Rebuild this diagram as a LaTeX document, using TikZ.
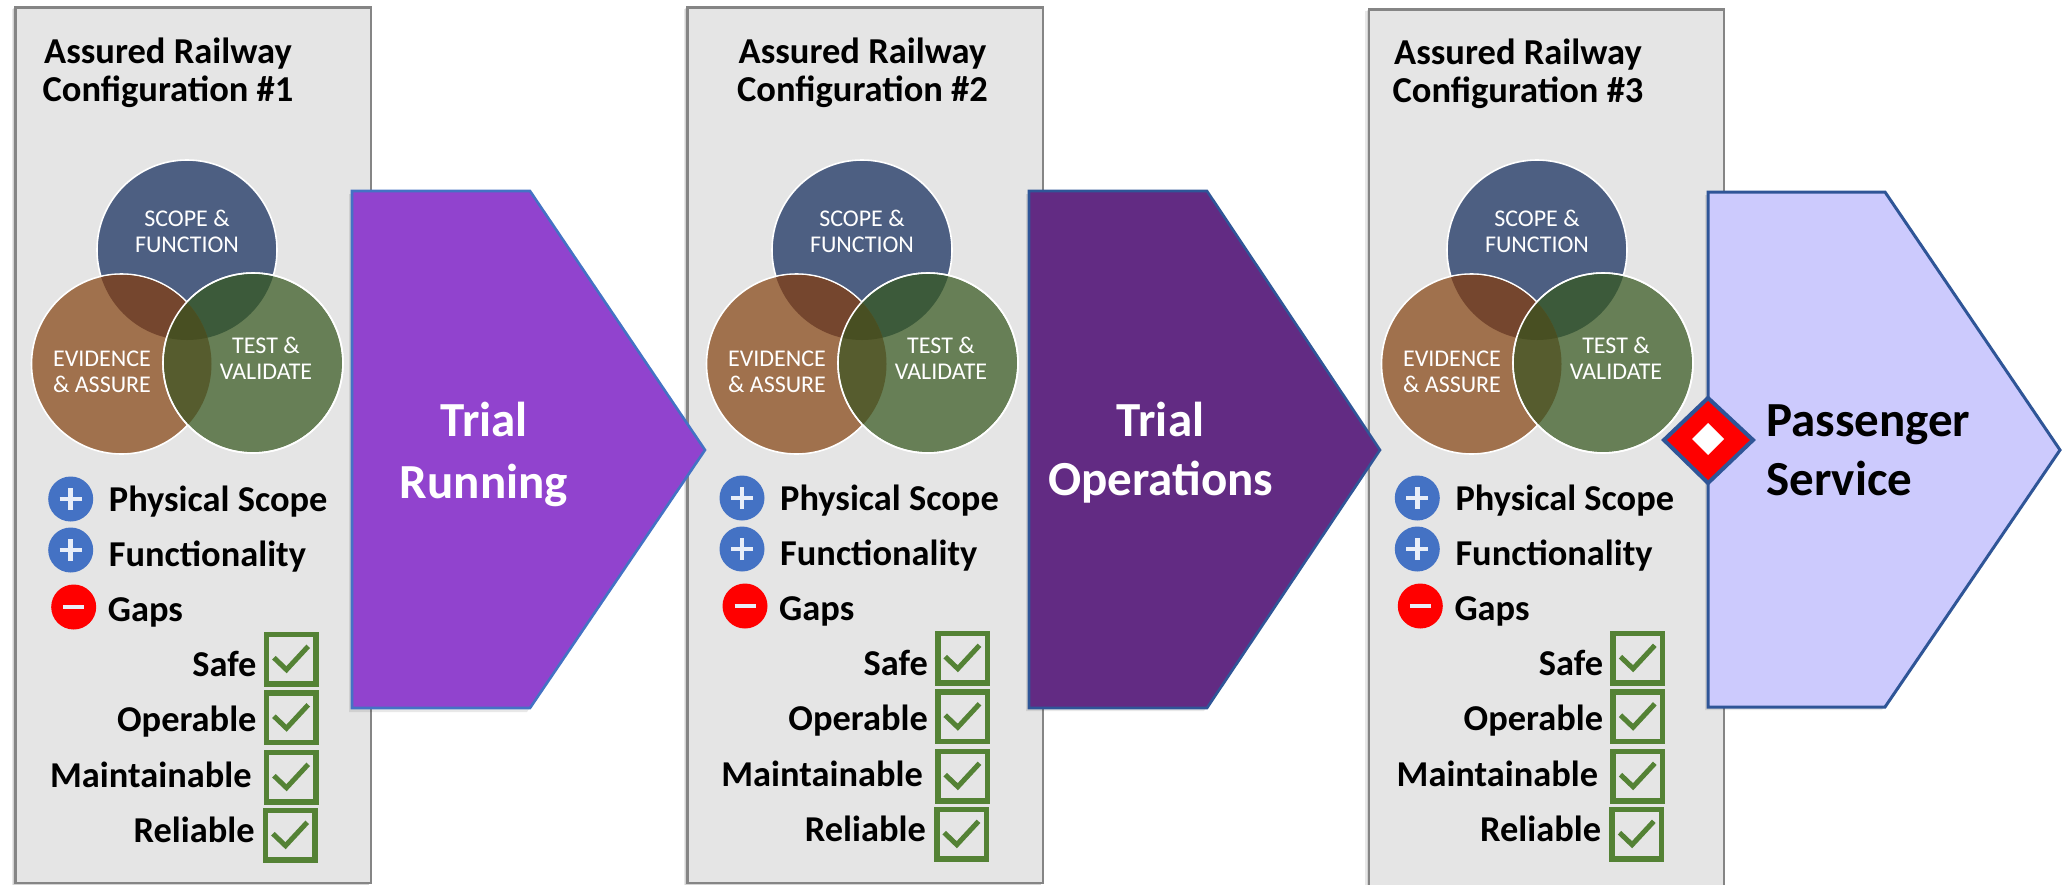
\documentclass[tikz,border=0pt]{standalone}
\usepackage{fontspec}
\setmainfont{Carlito}
\definecolor{panelfill}{HTML}{E5E5E5}
\definecolor{panelline}{HTML}{858585}
\definecolor{vblue}{HTML}{4D5F82}
\definecolor{vbrown}{HTML}{A0714D}
\definecolor{vgreen}{HTML}{677F56}
\definecolor{vbb}{HTML}{75462E}
\definecolor{vbg}{HTML}{3C5A3A}
\definecolor{vgb}{HTML}{565C2E}
\definecolor{vall}{HTML}{484F22}
\definecolor{plusblue}{HTML}{4472C4}
\definecolor{chk}{HTML}{548235}
\definecolor{arrA}{HTML}{9143CE}
\definecolor{arrB}{HTML}{622B83}
\definecolor{arrC}{HTML}{CCCAFD}
\definecolor{edgeA}{HTML}{4472C4}
\definecolor{edgeB}{HTML}{2F5597}
\tikzset{
  x=1pt,y=-1pt,
  panelbox/.style={fill=panelfill,draw=panelline,line width=2.2pt},
  titletext/.style={font=\fontsize{36.5}{36.5}\selectfont\bfseries,text=black,inner sep=0pt,anchor=base},
  venntext/.style={font=\fontsize{24}{24}\selectfont,text=white,inner sep=0pt,anchor=base},
  rowtext/.style={font=\fontsize{36.4}{36.4}\selectfont\bfseries,text=black,inner sep=0pt},
  bigwhite/.style={font=\fontsize{49}{49}\selectfont\bfseries,text=white,inner sep=0pt,anchor=base},
  bigblack/.style={font=\fontsize{49}{49}\selectfont\bfseries,text=black,inner sep=0pt,anchor=base west},
  checkbox/.style={draw=chk,line width=5.5pt,minimum size=49.5pt,inner sep=0pt,outer sep=0pt,rectangle},
  checkmark/.style={draw=chk,line width=5pt},
  iconplus/.style={circle,fill=plusblue,minimum size=45pt,inner sep=0pt},
  iconminus/.style={circle,fill=red,minimum size=45pt,inner sep=0pt},
  iconbar/.style={draw=white!88!plusblue,line width=4.8pt},
  pentagonA/.style={fill=arrA,draw=edgeA,line width=2.6pt,line join=miter},
  pentagonB/.style={fill=arrB,draw=edgeB,line width=2.6pt,line join=miter},
  pentagonC/.style={fill=arrC,draw=edgeB,line width=3pt,line join=miter},
  softshade/.style={fill=black,fill opacity=0.09,draw=none},
}
\newcommand{\pnlbox}[5]{% name x1 y1 x2 y2
  \fill[softshade] (#2-4,#3+1) rectangle (#4-2,#5+3);
  \fill[softshade] (#2-2.5,#3+.5) rectangle (#4-2,#5+3);
  \draw[panelbox] (#2,#3) rectangle (#4,#5);
}
\newcommand{\vennset}[2]{% prefix dx
\begin{scope}[shift={(#2,0)}]
  \coordinate (#1s) at (862,250);
  \coordinate (#1e) at (796.5,364);
  \coordinate (#1t) at (928,363);
  \fill[vblue] (#1s) circle[radius=90];
  \draw[white,line width=1.6pt] (#1s) circle[radius=90];
  \fill[vbrown] (#1e) circle[radius=90];
  \draw[white,line width=1.6pt] (#1e) circle[radius=90];
  \fill[vgreen] (#1t) circle[radius=90];
  \draw[white,line width=1.6pt] (#1t) circle[radius=90];
  \begin{scope}\clip (#1s) circle[radius=90]; \fill[vbb] (#1e) circle[radius=89.2];\end{scope}
  \begin{scope}\clip (#1s) circle[radius=90]; \fill[vbg] (#1t) circle[radius=89.2];\end{scope}
  \begin{scope}\clip (#1e) circle[radius=90]; \fill[vgb] (#1t) circle[radius=89.2];\end{scope}
  \begin{scope}\clip (#1e) circle[radius=90]; \clip (#1s) circle[radius=90]; \fill[vall] (#1t) circle[radius=89.2];\end{scope}
  \draw[white,line width=1.6pt] (#1t) circle[radius=90];
  \node[venntext] (#1a1) at (862,226) {SCOPE \&};
  \node[venntext] (#1a2) at (862,252) {FUNCTION};
  \node[venntext] (#1b1) at (777,366) {EVIDENCE};
  \node[venntext] (#1b2) at (777,392) {\& ASSURE};
  \node[venntext] (#1c1) at (941,353) {TEST \&};
  \node[venntext] (#1c2) at (941,379) {VALIDATE};
\end{scope}}
\newcommand{\tickbox}[3]{% name cx cy
  \node[checkbox] (#1) at (#2,#3) {};
  \draw[checkmark] ([shift={(-17.3,-1.3)}]#1.center) -- ([shift={(-4.7,10.7)}]#1.center) -- ([shift={(17,-12.7)}]#1.center);
}
\newcommand{\rowset}[3]{% prefix dx dy
\begin{scope}[shift={(#2,#3)}]
  \node[iconplus] (#1p1) at (742,498) {};
  \draw[iconbar] ([xshift=-11pt]#1p1.center) -- ([xshift=11pt]#1p1.center);
  \draw[iconbar] ([yshift=-11pt]#1p1.center) -- ([yshift=11pt]#1p1.center);
  \node[iconplus] (#1p2) at (742,549) {};
  \draw[iconbar] ([xshift=-11pt]#1p2.center) -- ([xshift=11pt]#1p2.center);
  \draw[iconbar] ([yshift=-11pt]#1p2.center) -- ([yshift=11pt]#1p2.center);
  \node[iconminus] (#1m) at (745,606) {};
  \draw[iconbar] ([xshift=-10.5pt]#1m.center) -- ([xshift=10.5pt]#1m.center);
  \node[rowtext,anchor=base west] (#1r1) at (780,510) {Physical Scope};
  \node[rowtext,anchor=base west] (#1r2) at (780,565) {Functionality};
  \node[rowtext,anchor=base west] (#1r3) at (779,620) {Gaps};
  \node[rowtext,anchor=base east] (#1r4) at (928,675) {Safe};
  \node[rowtext,anchor=base east] (#1r5) at (928,730) {Operable};
  \node[rowtext,anchor=base east] (#1r6) at (923,786) {Maintainable};
  \node[rowtext,anchor=base east] (#1r7) at (926,841) {Reliable};
  \tickbox{#1k1}{962.5}{658}
  \tickbox{#1k2}{962.5}{716.5}
  \tickbox{#1k3}{962.5}{776}
  \tickbox{#1k4}{961.5}{834}
\end{scope}}
\begin{document}
\begin{tikzpicture}
\useasboundingbox (0,0) rectangle (2062,884);
\fill[white] (0,0) rectangle (2062,884);
% panels
\pnlbox{pa}{15.5}{7.5}{371}{883}
\pnlbox{pb}{687.5}{7.5}{1043}{883}
\pnlbox{pc}{1369}{9.5}{1724}{890}
% titles
\node[titletext] (ta1) at (168,63) {Assured Railway};
\node[titletext] (ta2) at (168,101) {Configuration \#1};
\node[titletext] (tb1) at (862.5,63) {Assured Railway};
\node[titletext] (tb2) at (862.5,101) {Configuration \#2};
\node[titletext] (tc1) at (1518,64) {Assured Railway};
\node[titletext] (tc2) at (1518,102) {Configuration \#3};
% venn
\vennset{a}{-675}
\vennset{b}{0}
\vennset{c}{675}
% rows
\rowset{a}{-671.3}{1}
\rowset{b}{0}{0}
\rowset{c}{675.3}{0}
% arrows
\fill[softshade] (349,194) -- (527,194) -- (702,453) -- (527,712) -- (349,712) -- cycle;
\draw[pentagonA] (352,191) -- (530,191) -- (705,450) -- (530,708) -- (352,708) -- cycle;
\fill[softshade] (1026,194) -- (1204,194) -- (1377,453) -- (1204,711) -- (1026,711) -- cycle;
\draw[pentagonB] (1029,191) -- (1207,191) -- (1380,450) -- (1207,708) -- (1029,708) -- cycle;
\fill[softshade] (1705,195) -- (1882,195) -- (2058,453) -- (1882,710) -- (1705,710) -- cycle;
\draw[pentagonC] (1708,192) -- (1885,192) -- (2060,450) -- (1885,707) -- (1708,707) -- cycle;
\node[bigwhite] (l1a) at (484,436) {Trial};
\node[bigwhite] (l1b) at (484,498) {Running};
\node[bigwhite] (l2a) at (1160.5,436) {Trial};
\node[bigwhite] (l2b) at (1161,495) {Operations};
\node[bigblack] (l3a) at (1766,436) {Passenger};
\node[bigblack] (l3b) at (1766,495) {Service};
% diamond
\draw[fill=red,draw=edgeB,line width=4pt,line join=miter] (1708,398) -- (1753,440) -- (1708,483) -- (1664,440) -- cycle;
\fill[white] (1708,423) -- (1724,439) -- (1708,455) -- (1692,439) -- cycle;
\end{tikzpicture}
\end{document}
